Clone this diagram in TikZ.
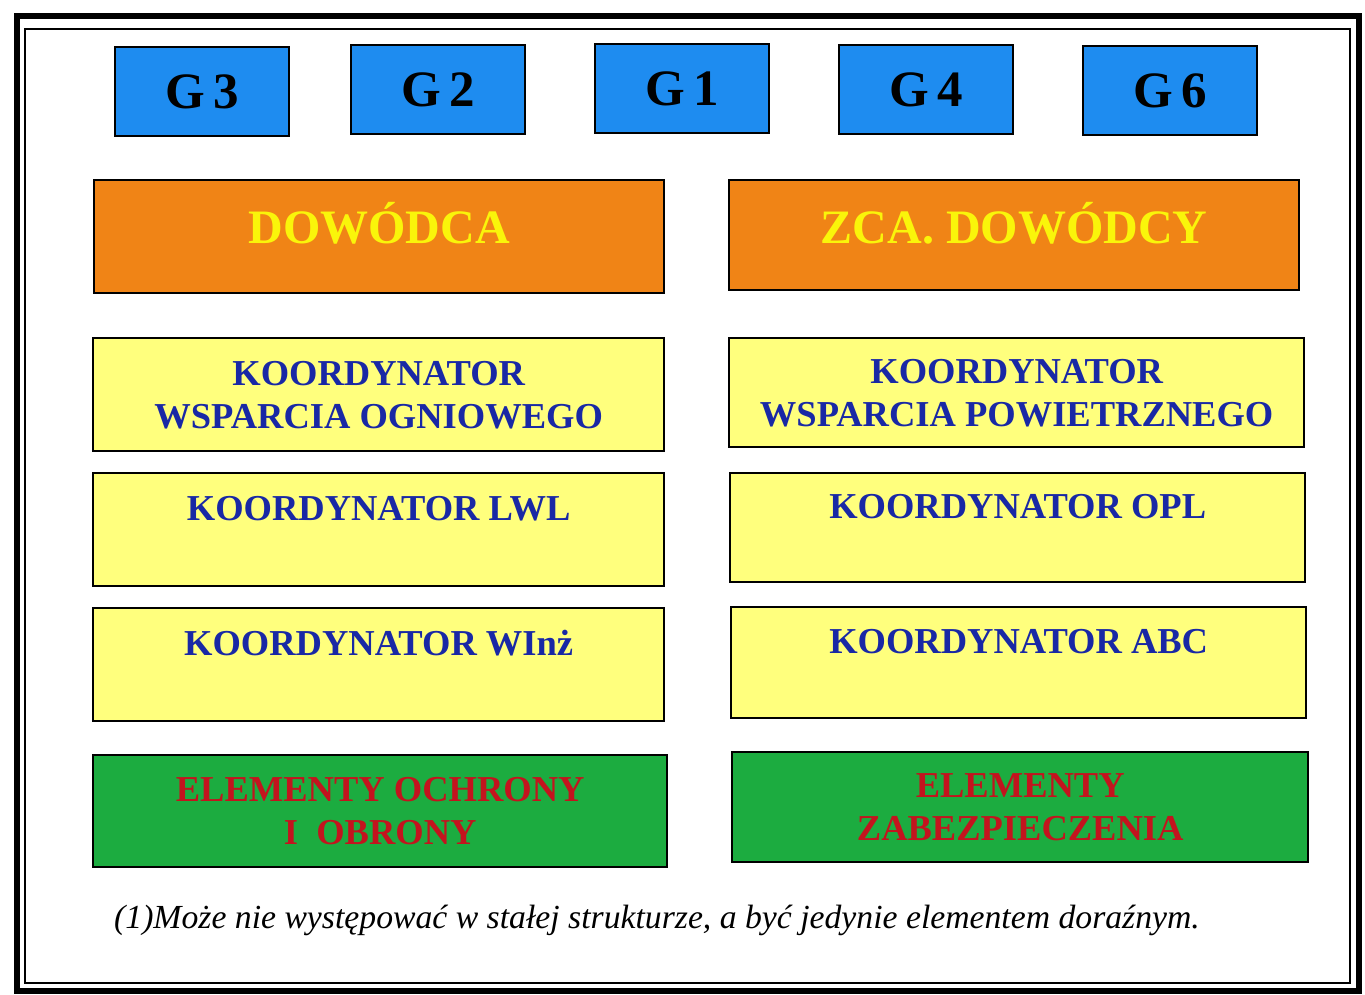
\documentclass[tikz,border=0pt]{standalone}
\usepackage{fontspec}
\setmainfont{Liberation Serif}
\begin{document}
\definecolor{gblue}{RGB}{30,140,240}
\definecolor{corange}{RGB}{240,132,22}
\definecolor{kyellow}{RGB}{255,255,125}
\definecolor{egreen}{RGB}{28,172,64}
\definecolor{tblue}{RGB}{25,40,165}
\definecolor{tred}{RGB}{195,20,30}
\definecolor{tyellow}{RGB}{250,245,10}
\begin{tikzpicture}[x=1pt,y=-1pt,
  box/.style={draw=black,line width=2.4pt,anchor=north west,inner sep=0pt,align=center},
  gbox/.style={box,fill=gblue,minimum width=174pt,minimum height=89pt,
    font=\bfseries\fontsize{51}{56}\selectfont,text=black},
  cmd/.style={box,fill=corange,minimum width=570pt,minimum height=113pt,
    font=\bfseries\fontsize{48}{54}\selectfont,text=tyellow},
  koord/.style={box,fill=kyellow,minimum width=571pt,minimum height=113pt,
    font=\bfseries\fontsize{36.5}{43}\selectfont,text=tblue},
  elem/.style={box,fill=egreen,minimum width=574pt,minimum height=112pt,
    font=\bfseries\fontsize{36.5}{43}\selectfont,text=tred},
  note/.style={font=\itshape\fontsize{33.7}{38}\selectfont,anchor=base west,inner sep=0pt}]
\useasboundingbox (0,0) rectangle (1365,995);
\fill[white] (0,0) rectangle (1365,995);
% double frame
\draw[line width=6pt] (17,16) rectangle (1359,991);
\draw[line width=2pt] (25,29) rectangle (1350,983);
% staff cells
\node[gbox] (g3) at (114,46) {G\,3};
\node[gbox] (g2) at (350,44) {G\,2};
\node[gbox] (g1) at (594,43) {G\,1};
\node[gbox] (g4) at (838,44) {G\,4};
\node[gbox] (g6) at (1082,45) {G\,6};
% command (labels sit above the box centre)
\node[cmd] (dow) at (93,179) {\raisebox{28pt}{DOWÓDCA}};
\node[cmd,minimum height=110pt] (zca) at (728,179) {\raisebox{24pt}{ZCA. DOWÓDCY}};
% coordinators
\node[koord] (kwo) at (92,337) {KOORDYNATOR\\WSPARCIA OGNIOWEGO};
\node[koord,minimum height=109pt,minimum width=575pt] (kwp) at (728,337) {KOORDYNATOR\\WSPARCIA POWIETRZNEGO};
\node[koord] (klwl) at (92,472) {KOORDYNATOR LWL\\\mbox{}};
\node[koord,minimum height=109pt,minimum width=575pt] (kopl) at (729,472) {KOORDYNATOR OPL\\\mbox{}};
\node[koord] (kwinz) at (92,607) {KOORDYNATOR WInż\\\mbox{}};
\node[koord,minimum height=111pt,minimum width=575pt] (kabc) at (730,606) {KOORDYNATOR ABC\\\mbox{}};
% protection elements
\node[elem] (eoo) at (92,754) {ELEMENTY OCHRONY\\I\ \ OBRONY};
\node[elem,minimum height=110pt,minimum width=576pt] (ez) at (731,751) {ELEMENTY\\ZABEZPIECZENIA};
% footnote
\node[note] (fn) at (114,928) {(1)Może nie występować w stałej strukturze, a być jedynie elementem doraźnym.};
\end{tikzpicture}
\end{document}
